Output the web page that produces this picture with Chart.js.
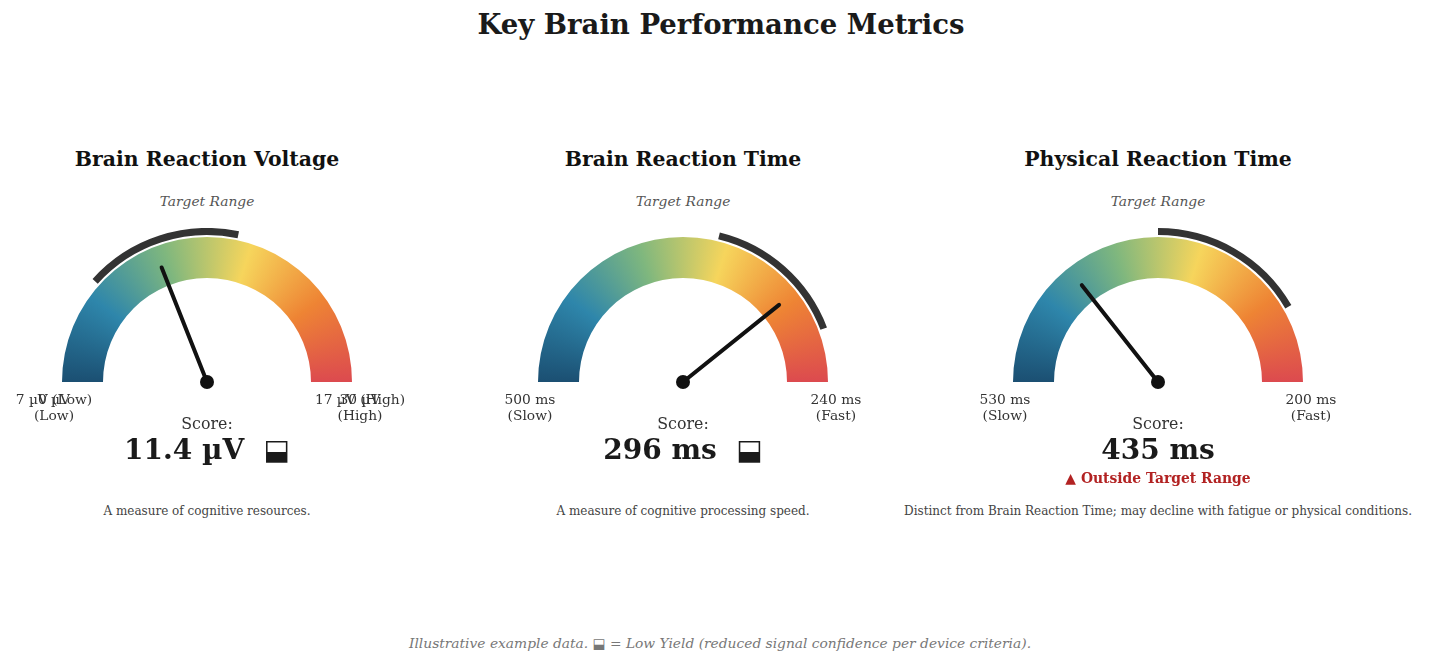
<!DOCTYPE html>
<html>
<head>
<meta charset="utf-8">
<script src="https://cdn.jsdelivr.net/npm/chart.js@4.4.1/dist/chart.umd.min.js"></script>
<style>
  body { margin: 0; background: #fff; font-family: "DejaVu Serif", serif; }
  #page { position: relative; width: 1429px; height: 665px; overflow: hidden; }
  .t { position: absolute; transform: translate(-50%, -50%); white-space: pre; text-align: center; line-height: 1.15; }
  canvas { position: absolute; }
</style>
</head>
<body>
<div id="page"></div>
<script>
// gauge data
var titles = ['Brain Reaction Voltage', 'Brain Reaction Time', 'Physical Reaction Time'];
var units = ['µV', 'ms', 'ms'];
var minVals = [0, 500, 530];      // left end of the dial
var maxVals = [30, 240, 200];     // right end of the dial
var targetFrom = [7, 350, 365];
var targetTo = [17, 270, 255];
var scores = [11.4, 296, 435];
var lowYield = [true, true, false];
var outsideTarget = [false, false, true];
var leftLabels = ['0 µV\n(Low)', '500 ms\n(Slow)', '530 ms\n(Slow)'];
var rightLabels = ['30 µV\n(High)', '240 ms\n(Fast)', '200 ms\n(Fast)'];
var extraLeft = ['7 µV (Low)', '', ''];
var extraRight = ['17 µV (High)', '', ''];
var notes = ['A measure of cognitive resources.',
  'A measure of cognitive processing speed.',
  'Distinct from Brain Reaction Time; may decline with fatigue or physical conditions.'];
var bandColors = ['#1b4f72', '#2e86ab', '#7fb77e', '#f6d55c', '#ee8434', '#dc4a4f'];

var centersX = [207, 683, 1158];
var centerY = 382;
var R = 154;

var page = document.getElementById('page');

function addText(txt, x, y, css) {
  var d = document.createElement('div');
  d.className = 't';
  d.textContent = txt;
  d.style.left = x + 'px';
  d.style.top = y + 'px';
  d.style.cssText += css;
  page.appendChild(d);
  return d;
}

addText('Key Brain Performance Metrics', 721, 25, 'font-size:27.5px;font-weight:bold;color:#1a1a1a;');
addText('Illustrative example data. ⬓ = Low Yield (reduced signal confidence per device criteria).', 720, 644,
  'font-size:13.8px;font-style:italic;color:#777;');

function centerPoint(chart) {
  var a = chart.chartArea;
  var r = Math.min(a.width, a.height * 2) / 2;
  return { x: (a.left + a.right) / 2, y: (a.top + a.bottom) / 2 + r / 2, r: r };
}

var needlePlugin = {
  id: 'needle',
  afterDatasetsDraw: function (chart) {
    var g = chart.options.plugins.needle;
    var c = centerPoint(chart);
    var frac = (g.value - g.min) / (g.max - g.min);
    var ang = Math.PI + frac * Math.PI;
    var len = c.r * 0.8;
    var ctx = chart.ctx;
    ctx.save();
    ctx.strokeStyle = '#111';
    ctx.lineWidth = 4;
    ctx.lineCap = 'round';
    ctx.beginPath();
    ctx.moveTo(c.x, c.y);
    ctx.lineTo(c.x + len * Math.cos(ang), c.y + len * Math.sin(ang));
    ctx.stroke();
    ctx.fillStyle = '#111';
    ctx.beginPath();
    ctx.arc(c.x, c.y, 7, 0, Math.PI * 2);
    ctx.fill();
    ctx.restore();
  }
};

for (var i = 0; i < 3; i++) {
  var cx = centersX[i];
  var cv = document.createElement('canvas');
  cv.width = 2 * R;
  cv.height = R + 14;
  cv.style.left = (cx - R) + 'px';
  cv.style.top = (centerY - R) + 'px';
  page.appendChild(cv);

  new Chart(cv, {
    type: 'doughnut',
    data: {
      labels: ['a', 'b', 'c'],
      datasets: [
        {
          data: [Math.abs(targetFrom[i] - minVals[i]), Math.abs(targetTo[i] - targetFrom[i]), Math.abs(maxVals[i] - targetTo[i])],
          backgroundColor: ['rgba(0,0,0,0)', '#333333', 'rgba(0,0,0,0)'],
          borderWidth: 0,
          weight: 7
        },
        { data: [1], backgroundColor: 'rgba(0,0,0,0)', borderWidth: 0, weight: 2 },
        {
          data: [1],
          borderWidth: 0,
          weight: 41,
          backgroundColor: function (ctx) {
            var chart = ctx.chart;
            if (!chart.chartArea) return bandColors[0];
            var c = centerPoint(chart);
            var grad = chart.ctx.createConicGradient(Math.PI, c.x, c.y);
            bandColors.forEach(function (col, k) {
              grad.addColorStop(k / (bandColors.length - 1) * 0.5, col);
            });
            grad.addColorStop(1, bandColors[bandColors.length - 1]);
            return grad;
          }
        }
      ]
    },
    options: {
      responsive: false,
      animation: false,
      events: [],
      rotation: -90,
      circumference: 180,
      cutout: (104 / R * 100) + '%',
      layout: { padding: { bottom: 14 } },
      plugins: {
        legend: { display: false },
        tooltip: { enabled: false },
        needle: { value: scores[i], min: minVals[i], max: maxVals[i] }
      }
    },
    plugins: [needlePlugin]
  });

  addText(titles[i], cx, 160, 'font-size:20.4px;font-weight:bold;color:#111;');
  addText('Target Range', cx, 202, 'font-size:13.8px;font-style:italic;color:#555;');
  addText(leftLabels[i], cx - 153, 408, 'font-size:13.8px;color:#333;');
  addText(rightLabels[i], cx + 153, 408, 'font-size:13.8px;color:#333;');
  if (extraLeft[i]) addText(extraLeft[i], cx - 153, 400, 'font-size:13.8px;color:#333;');
  if (extraRight[i]) addText(extraRight[i], cx + 153, 400, 'font-size:13.8px;color:#333;');
  addText('Score:', cx, 424, 'font-size:15.8px;color:#333;');
  addText(scores[i] + ' ' + units[i] + (lowYield[i] ? '  ⬓' : ''), cx, 450, 'font-size:28px;font-weight:bold;color:#1a1a1a;');
  if (outsideTarget[i]) addText('▲ Outside Target Range', cx, 478, 'font-size:13.9px;font-weight:bold;color:#b22222;');
  addText(notes[i], cx, 512, 'font-size:12px;color:#444;');
}
</script>
</body>
</html>
